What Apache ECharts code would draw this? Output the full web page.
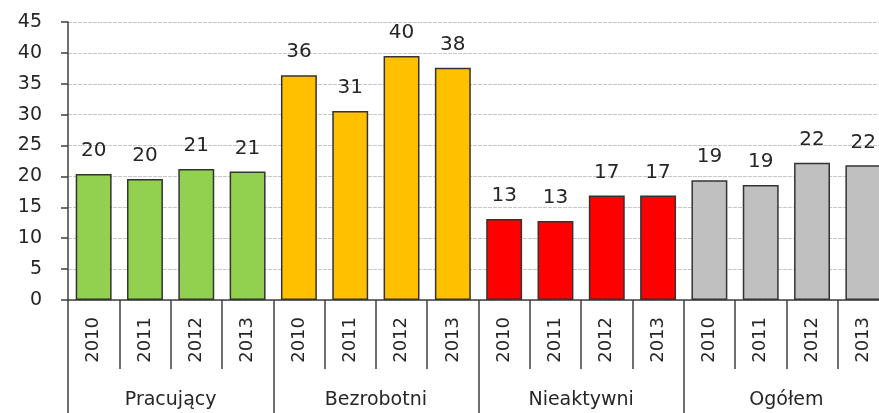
<!DOCTYPE html>
<html lang="pl" style="height: 100%">
<head>
  <meta charset="utf-8">
  <title>Wykres</title>
</head>
<body style="height: 100%; margin: 0; background: #fff;">
  <div id="container" style="width: 879px; height: 413px;"></div>

  <script type="text/javascript" src="https://cdn.jsdelivr.net/npm/echarts@6/dist/echarts.min.js"></script>
  <script type="text/javascript">
    // dane
    var groups = ['Pracujący', 'Bezrobotni', 'Nieaktywni', 'Ogółem'];
    var years = ['2010', '2011', '2012', '2013'];
    var pracujacy = [20.4, 19.6, 21.2, 20.8];
    var bezrobotni = [36.4, 30.6, 39.5, 37.6];
    var nieaktywni = [13.1, 12.8, 16.9, 16.9];
    var ogolem = [19.4, 18.6, 22.2, 21.8];
    var groupColors = ['#92D050', '#FFC000', '#FF0000', '#C0C0C0'];

    var dom = document.getElementById('container');
    var myChart = echarts.init(dom, null, { renderer: 'canvas' });

    var yearLabels = [];
    var barData = [];
    [pracujacy, bezrobotni, nieaktywni, ogolem].forEach(function (vals, g) {
      vals.forEach(function (v, i) {
        yearLabels.push(years[i]);
        barData.push({ value: v, itemStyle: { color: groupColors[g] } });
      });
    });

    var font = 'DejaVu Sans';
    var txt = '#262626';
    var axisCol = '#404040';

    var option = {
      animation: false,
      grid: { left: 68, top: 22, height: 278, width: 821, outerBoundsMode: 'none' },
      xAxis: [
        {
          type: 'category',
          data: yearLabels,
          axisLine: { lineStyle: { color: axisCol, width: 1.5 } },
          axisTick: { show: true, length: 69, interval: 0, lineStyle: { color: axisCol, width: 1.5 } },
          axisLabel: { rotate: 90, interval: 0, margin: 17, fontFamily: font, fontSize: 18, color: txt }
        },
        {
          type: 'category',
          position: 'bottom',
          data: groups,
          axisLine: { show: false },
          axisTick: { show: true, length: 120, interval: 0, lineStyle: { color: axisCol, width: 1.5 } },
          axisLabel: { interval: 0, margin: 91, fontFamily: font, fontSize: 19, color: txt }
        }
      ],
      yAxis: {
        type: 'value',
        min: 0,
        max: 45,
        interval: 5,
        axisLine: { show: true, lineStyle: { color: axisCol, width: 1.5 } },
        axisTick: { show: true, length: 7, lineStyle: { color: axisCol, width: 1.5 } },
        axisLabel: { margin: 26, fontFamily: font, fontSize: 19, color: txt },
        splitLine: { lineStyle: { type: [4, 1], color: '#c8c8c8', width: 1 } }
      },
      series: [
        {
          type: 'bar',
          xAxisIndex: 0,
          data: barData,
          barWidth: '70%',
          itemStyle: { borderColor: '#333333', borderWidth: 1.5 },
          label: {
            show: true,
            position: 'top',
            distance: 13,
            fontFamily: font,
            fontSize: 20,
            color: txt,
            formatter: function (p) { return Math.round(p.value); }
          }
        }
      ]
    };

    myChart.setOption(option);
    window.addEventListener('resize', myChart.resize);
  </script>
</body>
</html>
